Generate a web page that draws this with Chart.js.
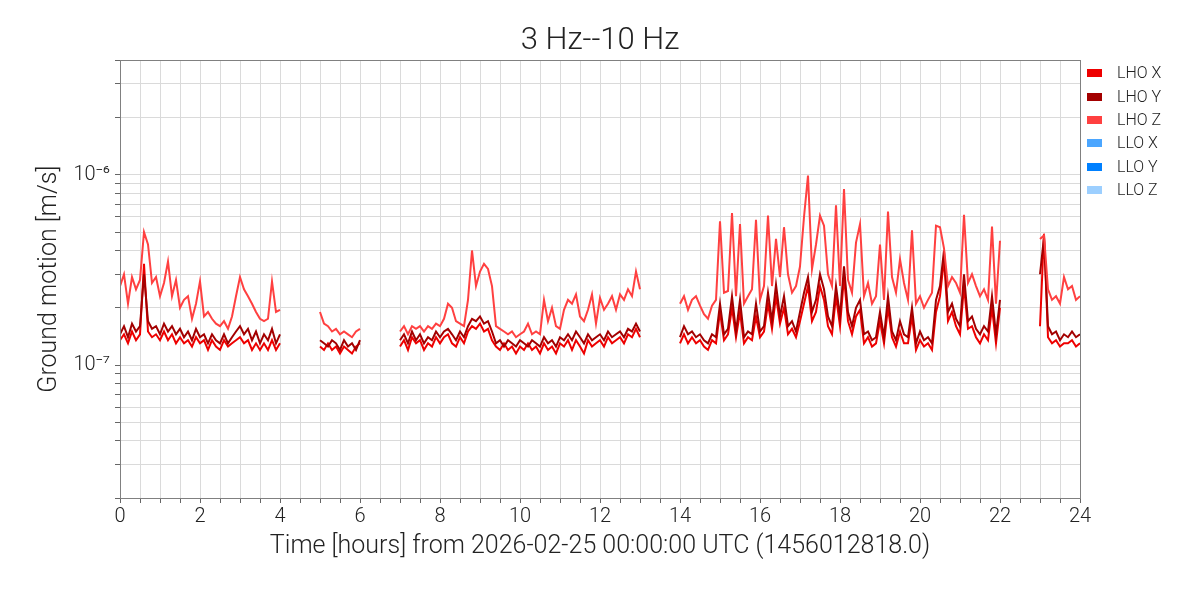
<!DOCTYPE html>
<html>
<head>
<meta charset="utf-8">
<title>3 Hz--10 Hz</title>
<script src="https://cdn.jsdelivr.net/npm/chart.js@4.4.1/dist/chart.umd.min.js"></script>
<style>
  html, body { margin: 0; padding: 0; background: #fff; }
  #wrap { width: 1200px; height: 600px; }
</style>
</head>
<body>
<div id="wrap"><canvas id="motionChart" width="1200" height="600"></canvas></div>
<script>
// ground motion, in units of 1e-7 m/s, one sample every 0.1 h
const UNIT = 1e-7;
const STEP = 0.1;
const segmentStarts = [0, 5, 7, 14, 23];

const lhoX = [
  [1.35,1.45,1.3,1.5,1.35,1.45,3.4,1.5,1.4,1.45, 1.35,1.5,1.35,1.45,1.3,1.4,1.3,1.35,1.25,1.4,
   1.3,1.35,1.2,1.35,1.25,1.2,1.35,1.25,1.3,1.35, 1.4,1.3,1.35,1.2,1.3,1.2,1.3,1.2,1.35,1.2, 1.3],
  [1.25,1.2,1.3,1.2,1.25,1.15,1.25,1.2,1.15,1.25,1.3],
  [1.25,1.35,1.2,1.4,1.3,1.35,1.2,1.3,1.25,1.4, 1.3,1.4,1.45,1.3,1.25,1.4,1.3,1.5,1.6,1.55,
   1.65,1.5,1.55,1.35,1.25,1.2,1.3,1.2,1.25,1.15, 1.25,1.2,1.3,1.2,1.25,1.15,1.3,1.2,1.25,1.15,
   1.3,1.25,1.35,1.2,1.35,1.25,1.15,1.35,1.25,1.3, 1.35,1.25,1.4,1.3,1.35,1.4,1.3,1.45,1.4,1.55, 1.4],
  [1.3,1.45,1.3,1.4,1.3,1.35,1.25,1.2,1.35,1.3, 1.9,1.35,1.45,2.0,1.4,1.9,1.3,1.4,1.35,1.8,
   1.4,1.5,2.1,1.55,2.3,1.65,2.0,1.45,1.55,1.4, 1.7,2.1,2.6,1.7,1.9,2.6,2.2,1.6,1.45,2.3,
   1.6,2.9,1.7,1.45,1.8,1.95,1.3,1.4,1.25,1.3, 1.7,1.3,2.0,1.4,1.25,1.5,1.3,1.3,1.8,1.2,
   1.35,1.25,1.3,1.2,1.9,2.3,3.6,1.7,1.9,1.6, 1.45,2.6,1.55,1.6,1.4,1.3,1.45,1.35,2.0,1.3, 2.0],
  [1.6,4.9,1.4,1.3,1.35,1.25,1.3,1.3,1.35,1.25,1.3]
];

const lhoY = [
  [1.45,1.6,1.4,1.65,1.5,1.6,3.0,1.7,1.55,1.6, 1.45,1.65,1.5,1.6,1.45,1.55,1.4,1.5,1.35,1.55,
   1.4,1.45,1.3,1.45,1.35,1.3,1.45,1.3,1.4,1.5, 1.6,1.45,1.55,1.35,1.5,1.3,1.45,1.35,1.55,1.3, 1.45],
  [1.35,1.3,1.25,1.35,1.3,1.2,1.35,1.25,1.3,1.2,1.35],
  [1.35,1.45,1.3,1.5,1.35,1.45,1.3,1.4,1.35,1.5, 1.4,1.5,1.55,1.45,1.35,1.5,1.4,1.6,1.75,1.7,
   1.8,1.65,1.7,1.5,1.3,1.35,1.25,1.35,1.3,1.25, 1.35,1.3,1.25,1.35,1.3,1.25,1.4,1.3,1.35,1.25,
   1.4,1.35,1.45,1.35,1.5,1.4,1.3,1.45,1.35,1.4, 1.45,1.35,1.5,1.4,1.45,1.5,1.4,1.55,1.5,1.65, 1.5],
  [1.4,1.6,1.45,1.5,1.4,1.45,1.35,1.3,1.45,1.4, 2.1,1.45,1.55,2.3,1.5,2.2,1.4,1.5,1.45,2.1,
   1.5,1.6,2.4,1.7,2.65,1.8,2.3,1.6,1.7,1.5, 1.9,2.4,2.9,1.9,2.2,3.0,2.5,1.8,1.6,2.6,
   1.8,3.3,1.9,1.6,2.0,2.2,1.45,1.5,1.35,1.4, 1.9,1.4,2.3,1.5,1.35,1.7,1.45,1.4,2.0,1.3,
   1.5,1.35,1.4,1.3,2.2,2.6,4.0,1.9,2.1,1.75, 1.6,3.0,1.7,1.8,1.55,1.45,1.6,1.5,2.3,1.45, 2.2],
  [3.0,4.7,1.6,1.45,1.5,1.35,1.45,1.4,1.5,1.4,1.45]
];

const lhoZ = [
  [2.6,3.0,2.1,2.9,2.5,2.8,5.0,4.3,2.7,2.9, 2.3,2.7,3.5,2.3,2.8,2.0,2.2,2.3,1.75,2.1,
   2.75,1.8,1.9,1.75,1.65,1.6,1.7,1.55,1.8,2.3, 2.9,2.5,2.3,2.1,1.9,1.75,1.7,1.75,2.75,1.9, 1.95],
  [1.9,1.65,1.6,1.5,1.55,1.45,1.5,1.45,1.4,1.5,1.55],
  [1.5,1.6,1.45,1.6,1.55,1.6,1.5,1.6,1.55,1.65, 1.6,1.75,2.1,2.0,1.7,1.65,1.6,2.2,4.0,2.6,
   3.1,3.4,3.2,2.6,1.6,1.55,1.5,1.45,1.5,1.4, 1.45,1.5,1.65,1.45,1.5,1.45,2.2,1.7,2.0,1.6,
   1.55,1.95,2.2,2.1,2.35,1.8,1.7,1.95,2.35,1.65, 2.25,1.95,2.1,2.3,1.95,2.35,2.2,2.5,2.3,3.1, 2.5],
  [2.1,2.3,1.95,2.2,2.3,2.05,1.85,1.75,2.05,2.2, 5.7,2.4,2.45,6.3,2.3,5.5,2.1,2.3,2.5,5.8,
   2.2,2.6,6.1,2.6,4.6,2.9,5.3,3.0,2.4,2.6, 3.3,6.0,9.9,3.2,4.3,6.1,5.4,3.0,2.6,6.9,
   2.6,8.4,2.8,2.4,4.4,5.5,2.3,2.7,2.1,2.3, 4.3,2.2,6.4,2.9,2.4,3.6,2.7,2.2,5.1,2.1,
   2.3,2.0,2.2,2.4,5.4,5.3,4.1,2.6,2.9,2.7, 2.4,6.15,2.7,3.0,2.6,2.3,2.5,2.2,5.35,2.1, 4.5],
  [4.6,4.8,2.5,2.2,2.3,2.1,2.9,2.5,2.6,2.2,2.3]
];

// no LLO data in this window
const lloX = [];
const lloY = [];
const lloZ = [];

const seriesNames = ['LHO X', 'LHO Y', 'LHO Z', 'LLO X', 'LLO Y', 'LLO Z'];
const seriesColors = ['#ee0000', '#a30000', '#ff4040', '#4ba6ff', '#0080ff', '#9ccfff'];

const xLabelHours = [0, 2, 4, 6, 8, 10, 12, 14, 16, 18, 20, 22, 24];
const yTickValues = [
  2e-8, 3e-8, 4e-8, 5e-8, 6e-8, 7e-8, 8e-8, 9e-8,
  1e-7, 2e-7, 3e-7, 4e-7, 5e-7, 6e-7, 7e-7, 8e-7, 9e-7,
  1e-6, 2e-6, 3e-6, 4e-6
];
const yLabelValues = [1e-7, 1e-6];
const yLabelTexts = ['10\u207B\u2077', '10\u207B\u2076'];

const FONT = 'Roboto, "DejaVu Sans", sans-serif';
const TEXT = '#222';

function toPoints(segments) {
  const pts = [];
  segments.forEach((seg, s) => {
    if (s > 0) pts.push({ x: segmentStarts[s] - 0.5, y: null });
    seg.forEach((v, i) => {
      pts.push({ x: +(segmentStarts[s] + i * STEP).toFixed(2), y: v * UNIT });
    });
  });
  return pts;
}

const allSeries = [lhoX, lhoY, lhoZ, lloX, lloY, lloZ];
const drawOrder = [3, 2, 1, 4, 5, 6];

const frame = {
  id: 'frame',
  afterDraw(chart) {
    const { ctx, chartArea: a } = chart;
    ctx.save();
    ctx.strokeStyle = '#808080';
    ctx.lineWidth = 1;
    ctx.strokeRect(Math.round(a.left) + 0.5, Math.round(a.top) + 0.5,
      Math.round(a.right - a.left), Math.round(a.bottom - a.top));
    ctx.restore();
  }
};

const sideLegend = {
  id: 'sideLegend',
  afterDraw(chart) {
    const { ctx, chartArea } = chart;
    ctx.save();
    ctx.font = '300 16px ' + FONT;
    ctx.textBaseline = 'middle';
    chart.data.datasets.forEach((ds, i) => {
      const y = chartArea.top + 13 + i * 23.4;
      ctx.fillStyle = ds.borderColor;
      ctx.fillRect(chartArea.right + 7, Math.round(y) - 4, 15, 8);
      ctx.fillStyle = TEXT;
      ctx.fillText(ds.label, chartArea.right + 37, y + 1);
    });
    ctx.restore();
  }
};

const ctx = document.getElementById('motionChart').getContext('2d');
new Chart(ctx, {
  type: 'line',
  data: {
    datasets: allSeries.map((segs, i) => ({
      label: seriesNames[i],
      data: toPoints(segs),
      borderColor: seriesColors[i],
      backgroundColor: seriesColors[i],
      borderWidth: 2,
      pointRadius: 0,
      tension: 0,
      spanGaps: false,
      order: drawOrder[i]
    }))
  },
  options: {
    responsive: false,
    animation: false,
    plugins: {
      legend: { display: false },
      tooltip: { enabled: false },
      title: {
        display: true,
        text: '3 Hz--10 Hz',
        color: TEXT,
        font: { family: FONT, size: 31, weight: 300 },
        padding: { top: 23, bottom: 0 }
      }
    },
    scales: {
      x: {
        type: 'linear',
        min: 0,
        max: 24,
        afterFit: s => { s.height = 102; },
        ticks: {
          stepSize: 0.5,
          autoSkip: false,
          maxRotation: 0,
          padding: 2,
          color: TEXT,
          font: { family: FONT, size: 20, weight: 300 },
          callback: v => xLabelHours.includes(v) ? String(v) : ''
        },
        grid: { color: '#dadada', tickColor: '#666', tickLength: 5 },
        border: { color: '#808080' },
        title: {
          display: true,
          text: 'Time [hours] from 2026-02-25 00:00:00 UTC (1456012818.0)',
          color: TEXT,
          font: { family: FONT, size: 25, weight: 300 },
          padding: { top: 0, bottom: 38 }
        }
      },
      y: {
        type: 'logarithmic',
        min: 2e-8,
        max: 4e-6,
        afterFit: s => { s.width = 120; },
        afterBuildTicks: s => { s.ticks = yTickValues.map(v => ({ value: v })); },
        ticks: {
          autoSkip: false,
          padding: 5,
          color: TEXT,
          font: { family: FONT, size: 20, weight: 300 },
          callback: v => {
            const k = yLabelValues.findIndex(t => Math.abs(v - t) / t < 1e-6);
            return k >= 0 ? yLabelTexts[k] : '';
          }
        },
        grid: { color: '#dadada', tickColor: '#666', tickLength: 5 },
        border: { color: '#808080' },
        title: {
          display: true,
          text: 'Ground motion [m/s]',
          color: TEXT,
          font: { family: FONT, size: 25, weight: 300 },
          padding: { top: 35, bottom: 0 }
        }
      },
      // empty strip on the right that holds the legend
      legendStrip: {
        type: 'linear',
        position: 'right',
        afterFit: s => { s.width = 120; },
        ticks: { display: false },
        grid: { display: false, drawTicks: false },
        border: { display: false }
      }
    }
  },
  plugins: [frame, sideLegend]
});
</script>
</body>
</html>
